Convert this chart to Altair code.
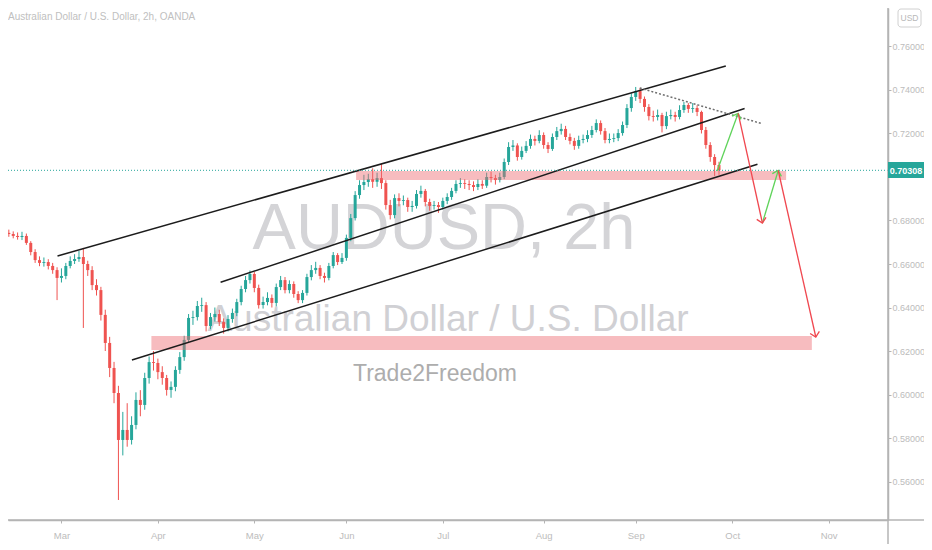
import altair as alt
import pandas as pd

# ---------------- data (trading-day index, 0 = 2 Mar 2020) ----------------
day_index = list(range(-13, 151))
opens = [0.6750,0.6743,0.6738,0.6729,0.6724,0.6729,0.6697,0.6655,0.6618,0.6605,0.6609,0.6591,0.6572,
         0.6536,0.6545,0.6591,0.6614,0.6623,0.6632,0.6600,0.6572,0.6503,0.6480,0.6366,0.6237,0.6122,
         0.6007,0.5791,0.5837,0.5791,0.5860,0.5975,0.5952,0.6076,0.6149,0.6145,0.6103,0.6076,0.6021,
         0.6035,0.6113,0.6172,0.6251,0.6352,0.6356,0.6407,0.6411,0.6315,0.6356,0.6370,0.6333,0.6306,
         0.6347,0.6375,0.6425,0.6485,0.6526,0.6554,0.6490,0.6411,0.6425,0.6444,0.6421,0.6494,0.6526,
         0.6480,0.6508,0.6462,0.6434,0.6467,0.6540,0.6572,0.6582,0.6545,0.6536,0.6591,0.6641,0.6609,
         0.6628,0.6720,0.6811,0.6917,0.6963,0.6977,0.6990,0.6978,0.6995,0.6972,0.6871,0.6825,0.6903,
         0.6890,0.6894,0.6862,0.6867,0.6922,0.6936,0.6885,0.6867,0.6871,0.6862,0.6890,0.6908,0.6936,
         0.6968,0.6972,0.6968,0.6963,0.6954,0.6968,0.6960,0.7000,0.6995,0.6986,0.7000,0.7069,0.7138,
         0.7145,0.7092,0.7120,0.7143,0.7175,0.7166,0.7193,0.7147,0.7129,0.7184,0.7211,0.7221,0.7184,
         0.7166,0.7143,0.7170,0.7175,0.7193,0.7216,0.7248,0.7211,0.7170,0.7175,0.7179,0.7202,0.7239,
         0.7317,0.7368,0.7395,0.7359,0.7322,0.7280,0.7276,0.7285,0.7234,0.7280,0.7285,0.7276,0.7308,
         0.7331,0.7313,0.7317,0.7299,0.7216,0.7147,0.7092,0.7055]
highs = [0.6762,0.6758,0.6750,0.6745,0.6748,0.6740,0.6705,0.6668,0.6635,0.6630,0.6622,0.6605,0.6585,
         0.6580,0.6605,0.6635,0.6645,0.6660,0.6674,0.6615,0.6590,0.6530,0.6495,0.6390,0.6265,0.6150,
         0.6040,0.5920,0.5960,0.5900,0.6010,0.6020,0.6100,0.6175,0.6200,0.6165,0.6130,0.6090,0.6060,
         0.6130,0.6195,0.6270,0.6370,0.6385,0.6430,0.6445,0.6425,0.6375,0.6400,0.6390,0.6350,0.6365,
         0.6395,0.6440,0.6500,0.6545,0.6570,0.6565,0.6505,0.6450,0.6470,0.6460,0.6510,0.6545,0.6540,
         0.6525,0.6520,0.6475,0.6480,0.6555,0.6595,0.6610,0.6595,0.6560,0.6605,0.6655,0.6650,0.6650,
         0.6735,0.6830,0.6935,0.6985,0.7010,0.7015,0.7040,0.7020,0.7060,0.6985,0.6895,0.6920,0.6925,
         0.6915,0.6905,0.6890,0.6940,0.6960,0.6945,0.6900,0.6890,0.6885,0.6905,0.6925,0.6950,0.6985,
         0.6995,0.6990,0.6985,0.6980,0.6990,0.6985,0.7020,0.7025,0.7010,0.7020,0.7085,0.7160,0.7170,
         0.7155,0.7140,0.7165,0.7195,0.7190,0.7215,0.7205,0.7160,0.7200,0.7230,0.7245,0.7235,0.7200,
         0.7180,0.7190,0.7195,0.7215,0.7235,0.7265,0.7260,0.7225,0.7200,0.7200,0.7220,0.7255,0.7335,
         0.7385,0.7414,0.7410,0.7370,0.7335,0.7305,0.7310,0.7295,0.7300,0.7310,0.7300,0.7330,0.7345,
         0.7340,0.7340,0.7330,0.7305,0.7230,0.7160,0.7105,0.7070]
lows = [0.6730,0.6725,0.6718,0.6712,0.6710,0.6688,0.6640,0.6605,0.6590,0.6588,0.6575,0.6555,0.6434,
        0.6515,0.6530,0.6580,0.6600,0.6610,0.6306,0.6545,0.6480,0.6455,0.6340,0.6200,0.6080,0.5960,
        0.5515,0.5720,0.5760,0.5770,0.5840,0.5900,0.5930,0.6050,0.6110,0.6070,0.6045,0.5995,0.5985,
        0.6015,0.6095,0.6155,0.6240,0.6320,0.6340,0.6380,0.6290,0.6300,0.6335,0.6315,0.6280,0.6290,
        0.6330,0.6360,0.6410,0.6470,0.6510,0.6470,0.6395,0.6395,0.6410,0.6400,0.6405,0.6480,0.6465,
        0.6465,0.6445,0.6420,0.6420,0.6455,0.6525,0.6555,0.6530,0.6515,0.6525,0.6580,0.6595,0.6600,
        0.6615,0.6705,0.6800,0.6900,0.6940,0.6955,0.6950,0.6955,0.6945,0.6850,0.6805,0.6810,0.6865,
        0.6870,0.6840,0.6840,0.6855,0.6905,0.6865,0.6845,0.6850,0.6835,0.6850,0.6875,0.6895,0.6925,
        0.6950,0.6945,0.6940,0.6935,0.6940,0.6945,0.6950,0.6975,0.6965,0.6975,0.6990,0.7055,0.7120,
        0.7075,0.7080,0.7110,0.7130,0.7145,0.7155,0.7130,0.7110,0.7120,0.7170,0.7195,0.7170,0.7150,
        0.7125,0.7130,0.7155,0.7160,0.7180,0.7205,0.7195,0.7155,0.7155,0.7160,0.7165,0.7190,0.7225,
        0.7300,0.7350,0.7340,0.7300,0.7260,0.7255,0.7260,0.7205,0.7220,0.7265,0.7255,0.7265,0.7295,
        0.7295,0.7295,0.7280,0.7200,0.7130,0.7070,0.7005,0.7010]
closes = [0.6743,0.6738,0.6729,0.6724,0.6729,0.6697,0.6655,0.6618,0.6605,0.6609,0.6591,0.6572,0.6536,
          0.6545,0.6591,0.6614,0.6623,0.6632,0.6600,0.6572,0.6503,0.6480,0.6366,0.6237,0.6122,0.6007,
          0.5791,0.5837,0.5791,0.5860,0.5975,0.5952,0.6076,0.6149,0.6145,0.6103,0.6076,0.6021,0.6035,
          0.6113,0.6172,0.6251,0.6352,0.6356,0.6407,0.6411,0.6315,0.6356,0.6370,0.6333,0.6306,0.6347,
          0.6375,0.6425,0.6485,0.6526,0.6554,0.6490,0.6411,0.6425,0.6444,0.6421,0.6494,0.6526,0.6480,
          0.6508,0.6462,0.6434,0.6467,0.6540,0.6572,0.6582,0.6545,0.6536,0.6591,0.6641,0.6609,0.6628,
          0.6720,0.6811,0.6917,0.6963,0.6977,0.6990,0.6978,0.6995,0.6972,0.6871,0.6825,0.6903,0.6890,
          0.6894,0.6862,0.6867,0.6922,0.6936,0.6885,0.6867,0.6871,0.6862,0.6890,0.6908,0.6936,0.6968,
          0.6972,0.6968,0.6963,0.6954,0.6968,0.6960,0.7000,0.6995,0.6986,0.7000,0.7069,0.7138,0.7145,
          0.7092,0.7120,0.7143,0.7175,0.7166,0.7193,0.7147,0.7129,0.7184,0.7211,0.7221,0.7184,0.7166,
          0.7143,0.7170,0.7175,0.7193,0.7216,0.7248,0.7211,0.7170,0.7175,0.7179,0.7202,0.7239,0.7317,
          0.7368,0.7395,0.7359,0.7322,0.7280,0.7276,0.7285,0.7234,0.7280,0.7285,0.7276,0.7308,0.7331,
          0.7313,0.7317,0.7299,0.7216,0.7147,0.7092,0.7055,0.70308]

month_ticks = [0, 22, 44, 65, 87, 110, 131, 153, 175]
month_labels = ["Mar", "Apr", "May", "Jun", "Jul", "Aug", "Sep", "Oct", "Nov"]
# 0.70000 is hidden behind the last-price tag in the original
price_ticks = [0.56, 0.58, 0.60, 0.62, 0.64, 0.66, 0.68, 0.72, 0.74, 0.76]

# drawings (start index, start price, end index, end price)
chan_x1 = [-0.90, 36.31, 16.08]
chan_y1 = [0.66368, 0.65159, 0.61586]
chan_x2 = [151.55, 155.84, 158.77]
chan_y2 = [0.75103, 0.73149, 0.70584]

trend_x1 = [131.93]
trend_y1 = [0.74092]
trend_x2 = [159.67]
trend_y2 = [0.72460]

zone_x1 = [67.21, 20.52]
zone_x2 = [165.31, 171.18]
zone_lo = [0.6986, 0.6205]
zone_hi = [0.7028, 0.6269]

arrow_x1 = [149.57, 154.37, 159.90, 163.51]
arrow_y1 = [0.70276, 0.72929, 0.67885, 0.70299]
arrow_x2 = [154.37, 159.90, 163.51, 172.08]
arrow_y2 = [0.72929, 0.67885, 0.70299, 0.62644]
arrow_kind = ["up", "down", "up", "down"]
arrow_angle = [20.4, 167.4, 17.0, 167.1]

last_price = 0.70308
last_label = "0.70308"

# ---------------- chart ----------------
UP, DOWN = "#26a69a", "#ef5350"
FONT = "Liberation Sans"

candles = pd.DataFrame({"idx": day_index, "open": opens, "high": highs,
                        "low": lows, "close": closes})
candles["dir"] = ["up" if c >= o else "down" for o, c in zip(opens, closes)]

xs = alt.Scale(domain=[-11.05, 187.41], nice=False, zero=False)
ys = alt.Scale(domain=[0.5423, 0.7777], nice=False, zero=False)

label_expr = "[" + ",".join("'%s'" % m for m in month_labels) + "][indexof([" + \
    ",".join(str(v) for v in month_ticks) + "], datum.value)]"

xax = alt.Axis(values=month_ticks, labelExpr=label_expr, title=None, grid=False,
               domainColor="#b4b4b4", domainWidth=1.5, tickColor="#b4b4b4", tickSize=3,
               labelColor="#bcbcbc", labelFontSize=9.5, labelFont=FONT, labelPadding=7,
               labelFlush=False, labelOverlap=False)
yax = alt.Axis(orient="right", values=price_ticks, format=".5f", title=None, grid=False,
               domainColor="#b4b4b4", domainWidth=1.5, tickColor="#b4b4b4", tickSize=3,
               labelColor="#bcbcbc", labelFontSize=9, labelFont=FONT, labelPadding=1,
               labelOverlap=False)


def X(f):
    return alt.X(f, type="quantitative", scale=xs, axis=xax)


def Y(f):
    return alt.Y(f, type="quantitative", scale=ys, axis=yax)


one = pd.DataFrame({"a": [0]})


def text_layer(txt, x, y, size, color, font=FONT, align="center", weight="normal", baseline="alphabetic"):
    return alt.Chart(pd.DataFrame({"t": [txt]})).mark_text(
        font=font, fontSize=size, color=color, align=align, baseline=baseline, fontWeight=weight
    ).encode(x=alt.value(x), y=alt.value(y), text="t:N")


wm1 = text_layer("AUDUSD, 2h", 436, 241, 65, "#d4d4d7")
wm2 = text_layer("Australian Dollar / U.S. Dollar", 440, 323, 37, "#d0d0d4")
wm3 = text_layer("Trade2Freedom", 427, 373, 23, "#adadad")
title = text_layer("Australian Dollar / U.S. Dollar, 2h, OANDA", 0, 12, 10, "#c0c0c0", align="left")

color_enc = alt.Color("dir:N", scale=alt.Scale(domain=["up", "down"], range=[UP, DOWN]), legend=None)

wicks = alt.Chart(candles).mark_rule(strokeWidth=1, clip=True).encode(
    x=X("idx"), y=Y("low"), y2=alt.Y2("high"), color=color_enc)
bodies = alt.Chart(candles).mark_bar(size=3, clip=True).encode(
    x=X("idx"), y=Y("open"), y2=alt.Y2("close"), color=color_enc)

zones = alt.Chart(pd.DataFrame({"x1": zone_x1, "x2": zone_x2, "lo": zone_lo, "hi": zone_hi})).mark_rect(
    color="#ee6b72", opacity=0.45, clip=True).encode(
    x=X("x1"), x2=alt.X2("x2"), y=Y("lo"), y2=alt.Y2("hi"))

chan = alt.Chart(pd.DataFrame({"x1": chan_x1, "y1": chan_y1, "x2": chan_x2, "y2": chan_y2})).mark_rule(
    color="#1c1c1c", strokeWidth=1.5, clip=True).encode(
    x=X("x1"), y=Y("y1"), x2=alt.X2("x2"), y2=alt.Y2("y2"))

trend = alt.Chart(pd.DataFrame({"x1": trend_x1, "y1": trend_y1, "x2": trend_x2, "y2": trend_y2})).mark_rule(
    color="#6f6f6f", strokeWidth=1.5, strokeDash=[2, 2], clip=True).encode(
    x=X("x1"), y=Y("y1"), x2=alt.X2("x2"), y2=alt.Y2("y2"))

price_line = alt.Chart(pd.DataFrame({"p": [last_price]})).mark_rule(
    color=UP, strokeWidth=1, strokeDash=[1, 2]).encode(
    y=Y("p"), x=alt.value(0), x2=alt.value(880))

arrows_df = pd.DataFrame({"x1": arrow_x1, "y1": arrow_y1, "x2": arrow_x2, "y2": arrow_y2,
                          "kind": arrow_kind, "ang": arrow_angle})
arrow_layers = []
for kind, col in (("up", "#5fd35a"), ("down", "#f0474f")):
    base = alt.Chart(arrows_df).transform_filter(alt.datum.kind == kind)
    arrow_layers.append(base.mark_rule(color=col, strokeWidth=1.3, clip=True).encode(
        x=X("x1"), y=Y("y1"), x2=alt.X2("x2"), y2=alt.Y2("y2")))
    arrow_layers.append(base.mark_point(shape="M-1,1L0,0L1,1", filled=False, color=col,
                                        strokeWidth=1.3, size=90, opacity=1).encode(
        x=X("x2"), y=Y("y2"), angle=alt.Angle("ang:Q", scale=None)))

# right/bottom frame lines and labels
hline = alt.Chart(one).mark_rule(color="#b4b4b4", strokeWidth=1.5).encode(
    x=alt.value(-8), x2=alt.value(916), y=alt.value(512))
vline = alt.Chart(one).mark_rule(color="#b4b4b4", strokeWidth=1.5).encode(
    x=alt.value(880), y=alt.value(-8), y2=alt.value(540))
price_box = alt.Chart(one).mark_rect(color=UP).encode(
    x=alt.value(880), x2=alt.value(916), y=alt.value(154), y2=alt.value(170))
price_txt = text_layer(last_label, 898, 162.5, 9, "white", weight="bold", baseline="middle")
usd_box = alt.Chart(one).mark_rect(fill="white", stroke="#d0d0d0", strokeWidth=1, cornerRadius=3).encode(
    x=alt.value(890), x2=alt.value(913), y=alt.value(1), y2=alt.value(19))
usd_txt = text_layer("USD", 901.5, 10, 8.5, "#b8b8b8", baseline="middle")

chart = alt.layer(
    wm1, wm2, wm3, title, wicks, bodies, zones, chan, trend, price_line, *arrow_layers,
    hline, vline, price_box, price_txt, usd_box, usd_txt
).properties(
    width=880, height=512,
    autosize=alt.AutoSizeParams(type="none"),
    padding={"left": 0, "top": 0, "right": 36, "bottom": 24},
    background="white",
).configure_view(stroke=None)

chart.save("out.html", embed_options={"renderer": "svg", "actions": False})
